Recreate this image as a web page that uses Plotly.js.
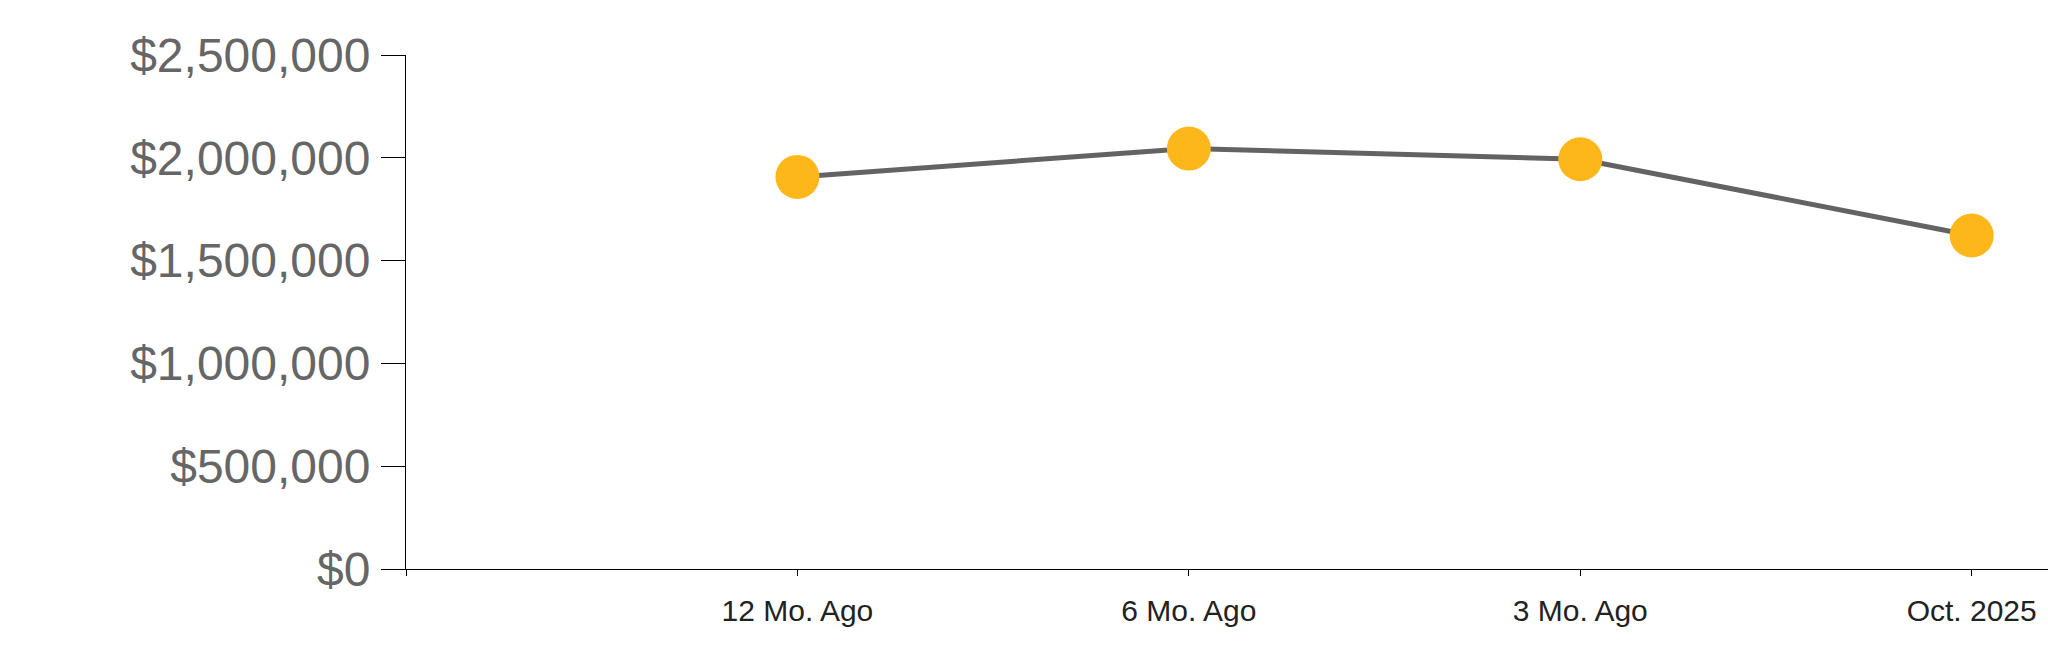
<!DOCTYPE html>
<html>
<head>
<meta charset="utf-8">
<script src="https://cdn.plot.ly/plotly-3.0.1.min.js"></script>
<style>
html, body { margin: 0; padding: 0; background: #fff; }
#chart { width: 2048px; height: 663px; }
</style>
</head>
<body>
<div id="chart"></div>
<script>
const categories = ['12 Mo. Ago', '6 Mo. Ago', '3 Mo. Ago', 'Oct. 2025'];
const values = [1907000, 2045000, 1993000, 1622000];
const yTickValues = [0, 500000, 1000000, 1500000, 2000000, 2500000];
const yTickLabels = ['$0', '$500,000', '$1,000,000', '$1,500,000', '$2,000,000', '$2,500,000'];

const xPos = categories.map((c, i) => i + 1);

const trace = {
  x: xPos,
  y: values,
  text: categories,
  type: 'scatter',
  mode: 'lines+markers',
  line: { color: '#636363', width: 5 },
  marker: { color: '#FDB71A', size: 44, line: { width: 0 } },
  hoverinfo: 'text+y',
  cliponaxis: false
};

const layout = {
  width: 2048,
  height: 663,
  margin: { l: 406, r: 0, t: 55, b: 94, pad: 0 },
  paper_bgcolor: '#ffffff',
  plot_bgcolor: '#ffffff',
  showlegend: false,
  font: { family: 'Liberation Sans, Arial, sans-serif' },
  xaxis: {
    range: [0, 4.195],
    tickvals: [0].concat(xPos),
    ticktext: [''].concat(categories),
    showgrid: false,
    zeroline: false,
    showline: true,
    linecolor: '#000',
    linewidth: 1,
    ticks: 'outside',
    ticklen: 6,
    tickwidth: 1,
    tickcolor: '#000',
    ticklabelstandoff: 9,
    tickfont: { size: 30, color: '#222222', family: 'Liberation Sans, Arial, sans-serif' }
  },
  yaxis: {
    range: [0, 2500000],
    tickvals: yTickValues,
    ticktext: yTickLabels,
    showgrid: false,
    zeroline: false,
    showline: true,
    linecolor: '#000',
    linewidth: 1,
    ticks: 'outside',
    ticklen: 24,
    tickwidth: 1,
    tickcolor: '#000',
    ticklabelstandoff: 1,
    tickfont: { size: 48, color: '#666666', family: 'Liberation Sans, Arial, sans-serif' }
  }
};

Plotly.newPlot('chart', [trace], layout, { displayModeBar: false, staticPlot: true });
</script>
</body>
</html>
